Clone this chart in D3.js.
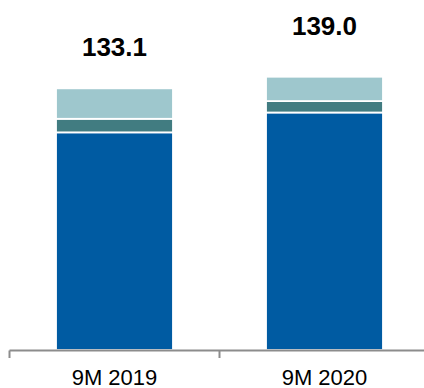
<!DOCTYPE html>
<html>
<head>
<meta charset="utf-8">
<script src="https://cdn.jsdelivr.net/npm/d3@7"></script>
<style>
  body { margin: 0; background: #fff; }
  text { font-family: Arial, "Liberation Sans", sans-serif; fill: #000; }
</style>
</head>
<body>
<div class="chart"></div>
<script>
// values
const periods = ["9M 2019", "9M 2020"];
const baseValues = [110.7, 120.8];   // dark blue
const midValues = [6.9, 5.8];        // teal
const topValues = [15.5, 12.4];      // light teal
const totalLabels = ["133.1", "139.0"];

const keys = ["base", "mid", "top"];
const colors = {base: "#005ba2", mid: "#417c81", top: "#9ec7cd"};

const width = 424, height = 388;

const svg = d3.select(".chart").append("svg")
  .attr("width", width)
  .attr("height", height);

/* build rows for the stack */
const rows = periods.map((p, i) => ({
  period: p, base: baseValues[i], mid: midValues[i], top: topValues[i], label: totalLabels[i]
}));

const stack = d3.stack().keys(keys);
const series = stack(rows);

/* scales */
const x = d3.scaleBand()
  .domain(periods)
  .range([9.5, 429.5])
  .padding(0);

const y = d3.scaleLinear()
  .domain([0, 100])
  .range([350, 153.4]);

const barW = x.bandwidth() * 0.557;

/* bars */
svg.append("g").selectAll("g")
  .data(series)
  .join("g")
    .attr("fill", d => colors[d.key])
  .selectAll("rect")
  .data(d => d)
  .join("rect")
    .attr("x", d => x(d.data.period) + (x.bandwidth() - barW) / 2)
    .attr("y", d => y(d[1]))
    .attr("width", barW)
    .attr("height", d => y(d[0]) - y(d[1]))
    .attr("stroke", "#fff")
    .attr("stroke-width", 1.8);

/* total labels */
const nudge = [-32, -42];
svg.append("g").selectAll("text")
  .data(rows)
  .join("text")
    .attr("x", d => x(d.period) + x.bandwidth() / 2)
    .attr("y", (d, i) => y(d.base + d.mid + d.top) + nudge[i])
    .attr("text-anchor", "middle")
    .style("font-size", "26px")
    .style("font-weight", "bold")
    .text(d => d.label);

/* x axis */
const axis = svg.append("g").attr("transform", "translate(0,350.5)");

axis.append("line")
  .attr("x1", x.range()[0]).attr("x2", width)
  .attr("stroke", "#8c8c8c").attr("stroke-width", 2);

const bounds = periods.map(p => x(p)).concat([x.range()[1]]);
axis.selectAll(".tick")
  .data(bounds)
  .join("line")
    .attr("class", "tick")
    .attr("x1", d => d).attr("x2", d => d)
    .attr("y1", 0).attr("y2", 7.5)
    .attr("stroke", "#8c8c8c").attr("stroke-width", 2);

axis.selectAll(".lbl")
  .data(periods)
  .join("text")
    .attr("class", "lbl")
    .attr("x", d => x(d) + x.bandwidth() / 2)
    .attr("y", 34.5)
    .attr("text-anchor", "middle")
    .style("font-size", "22px")
    .text(d => d);
</script>
</body>
</html>
